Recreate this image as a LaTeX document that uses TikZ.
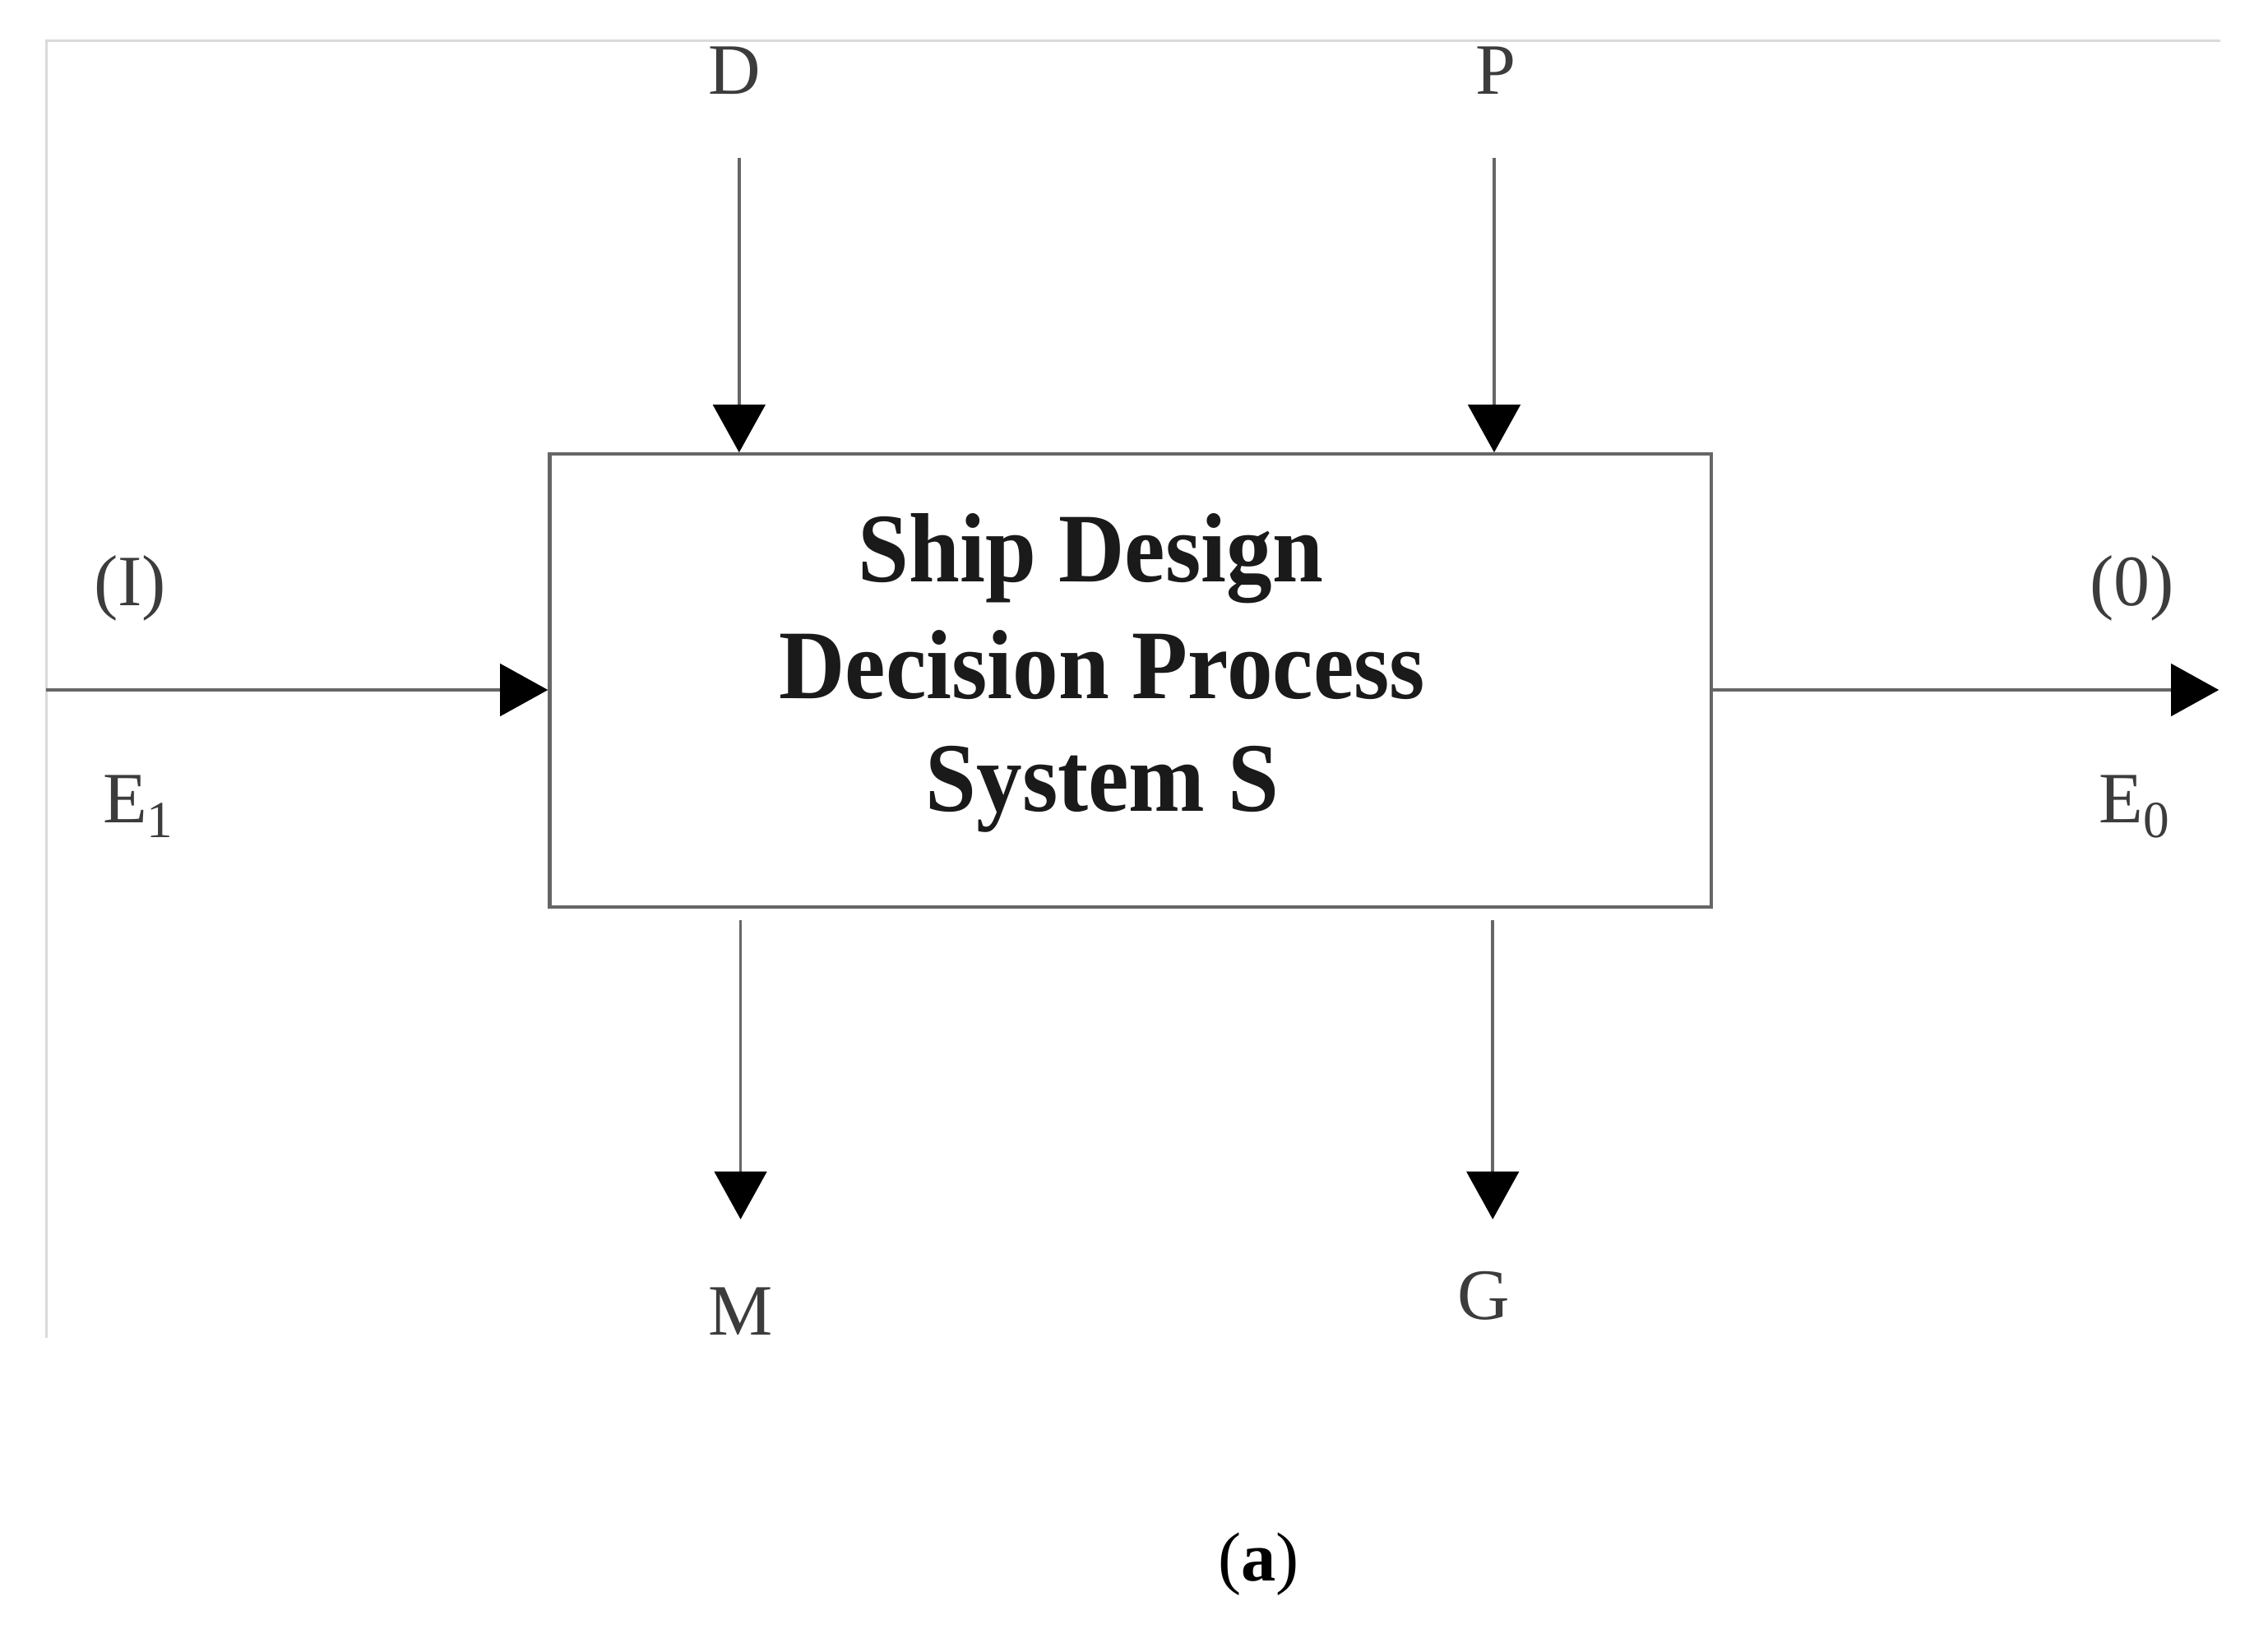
\documentclass[tikz,border=0pt]{standalone}
\usepackage{fontspec}
\setmainfont{Liberation Serif}
\newfontfamily\boxfont[FakeStretch=0.93]{Liberation Serif}
\usetikzlibrary{arrows.meta}
\definecolor{linegray}{HTML}{666666}
\definecolor{framegray}{HTML}{DADADA}
\definecolor{labelgray}{HTML}{3C3C3C}
\definecolor{boxtext}{HTML}{1A1A1A}
\tikzset{
  lbl/.style={font=\fontsize{50}{60}\selectfont, text=labelgray, inner sep=0pt},
  boxline/.style={font=\boxfont\bfseries\fontsize{68}{80}\selectfont, text=boxtext, inner sep=0pt},
  flow/.style={draw=linegray, line width=2.1pt, -{Triangle[length=33pt,width=36pt,color=black]}},
  framel/.style={draw=framegray, line width=1.8pt},
  sysbox/.style={draw=linegray, line width=2.4pt, minimum width=803pt, minimum height=313pt, inner sep=0pt}
}
\begin{document}
\begin{tikzpicture}[x=1pt,y=-1pt]
\fill[white] (0,0) rectangle (1568,1126);
\useasboundingbox (0,0) rectangle (1568,1126);
% faint frame
\draw[framel] (32,925) -- (32,28) -- (1535,28);
% system box
\node[sysbox] (S) at (781.5,470.5) {};
\node[boxline, anchor=base] (S1) at (754,402) {Ship Design};
\node[boxline, anchor=base] (S2) at (762,483) {Decision Process};
\node[boxline, anchor=base] (S3) at (762,561) {System S};
% labels
\node[lbl, anchor=base] (D) at (508,65) {D};
\node[lbl, anchor=base] (P) at (1034,65) {P};
\node[lbl, anchor=base] (I) at (90,419) {(I)};
\node[lbl, anchor=base] (O) at (1474,419) {(0)};
\node[lbl, anchor=base west] (E1) at (71,569) {E\raisebox{-10pt}{\fontsize{36}{36}\selectfont 1}};
\node[lbl, anchor=base west] (E0) at (1451,569) {E\raisebox{-10pt}{\fontsize{36}{36}\selectfont 0}};
\node[lbl, anchor=base] (M) at (512,923) {M};
\node[lbl, anchor=base] (G) at (1026,912) {G};
\node[font=\fontsize{48}{56}\selectfont, anchor=base, inner sep=0pt] (cap) at (870,1093) {(\textbf{a})};
% connector ends
\coordinate (Dtop) at (511,109);
\coordinate (Ptop) at (1033,109);
\coordinate (Iin) at (32,477);
\coordinate (Oout) at (1534,477);
\coordinate (Mtop) at (512,636);
\coordinate (Mbot) at (512,843);
\coordinate (Gtop) at (1032,636);
\coordinate (Gbot) at (1032,843);
% connectors
\draw[flow] (Dtop) -- (Dtop |- S.north);
\draw[flow] (Ptop) -- (Ptop |- S.north);
\draw[flow] (Iin) -- (Iin -| S.west);
\draw[flow] (S.east |- Oout) -- (Oout);
\draw[flow] (Mtop) -- (Mbot);
\draw[flow] (Gtop) -- (Gbot);
\end{tikzpicture}
\end{document}
